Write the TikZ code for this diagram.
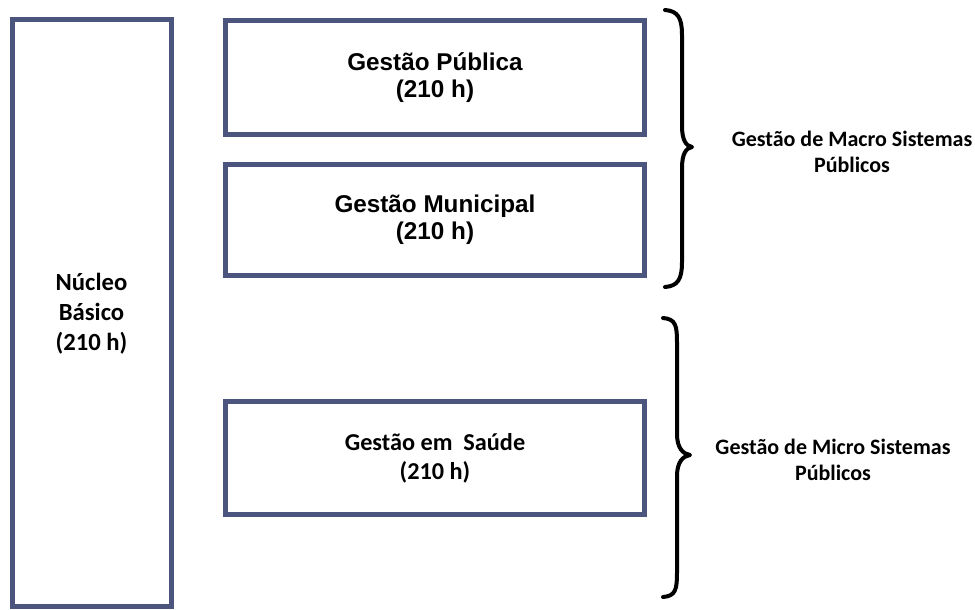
\documentclass[tikz,border=0pt]{standalone}
\usepackage{fontspec}
\newfontfamily\arialfont{Liberation Sans}
\newfontfamily\califont{Carlito}
\definecolor{boxblue}{RGB}{75,85,125}
\tikzset{
  px/.style={x=0.75pt,y=-0.75pt},
  framebox/.style={draw=boxblue,line width=3.75pt,inner sep=0pt,align=center,fill=white},
  arialtxt/.style={font=\arialfont\bfseries\fontsize{18.2}{20.25}\selectfont},
  bracestyle/.style={draw=black,line width=3pt,line cap=round,line join=round},
  grouplabel/.style={align=center,inner sep=0pt,font=\califont\bfseries\fontsize{16.5}{19}\selectfont}
}
\begin{document}
\begin{tikzpicture}[px]
\useasboundingbox (0,0) rectangle (975,610);
\node[framebox,minimum width=119.25pt,minimum height=440.6pt,font=\califont\bfseries\fontsize{18.5}{22.5}\selectfont] (nucleo) at (91.5,313.25) {Núcleo\\Básico\\(210 h)};
\node[framebox,arialtxt,minimum width=314.25pt,minimum height=85.5pt] (publica) at (435,77.5) {Gestão Pública\\(210 h)};
\node[framebox,arialtxt,minimum width=314.25pt,minimum height=83.25pt] (municipal) at (435,220) {Gestão Municipal\\(210 h)};
\node[framebox,minimum width=314.25pt,minimum height=84.75pt,font=\califont\bfseries\fontsize{18.2}{21.75}\selectfont] (saude) at (435,458) {Gestão em\ \ Saúde\\(210 h)};
% braces
\coordinate (b1top) at (665,10);
\coordinate (b1tip) at (692,147);
\coordinate (b1bot) at (665,287);
\draw[bracestyle] (b1top) .. controls (678,11) and (682,18) .. (682,35) -- (682,126)
  .. controls (682,140) and (686,146) .. (b1tip)
  .. controls (686,148) and (682,154) .. (682,168) -- (682,262)
  .. controls (682,279) and (678,286) .. (b1bot);
\coordinate (b2top) at (663,318);
\coordinate (b2tip) at (690,455);
\coordinate (b2bot) at (663,597);
\draw[bracestyle] (b2top) .. controls (676,319) and (677,326) .. (677,343) -- (677,434)
  .. controls (677,448) and (683,454) .. (b2tip)
  .. controls (683,456) and (677,462) .. (677,476) -- (677,572)
  .. controls (677,589) and (676,596) .. (b2bot);
\node[grouplabel] (macro) at (852,152) {Gestão de Macro Sistemas\\Públicos};
\node[grouplabel] (micro) at (833,460) {Gestão de Micro Sistemas\\Públicos};
\end{tikzpicture}
\end{document}
